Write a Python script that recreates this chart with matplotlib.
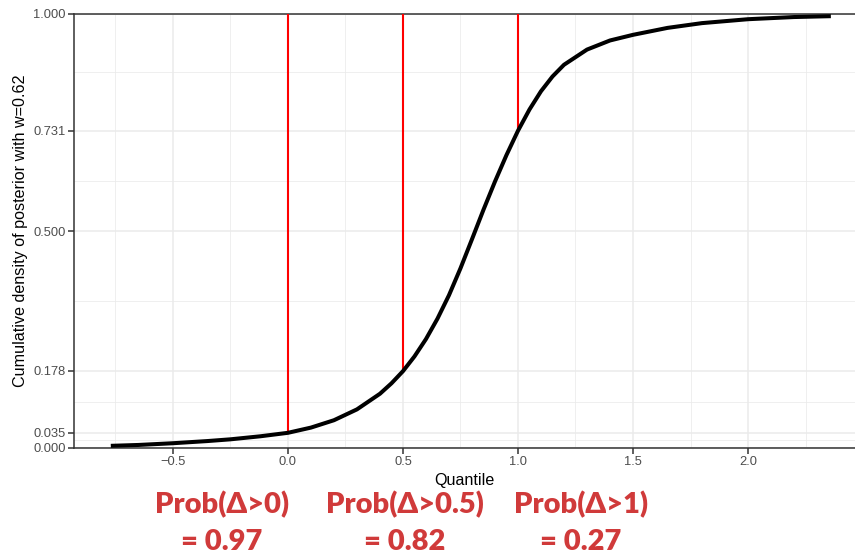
import matplotlib
matplotlib.use('Agg')
import matplotlib.pyplot as plt

# Posterior CDF
quantile = [-0.77, -0.65, -0.50, -0.35, -0.25, -0.12, 0.00, 0.10, 0.20, 0.30,
            0.40, 0.45, 0.50, 0.55, 0.60, 0.65, 0.70, 0.75, 0.80, 0.85,
            0.90, 0.95, 1.00, 1.05, 1.10, 1.15, 1.20, 1.30, 1.40, 1.50,
            1.65, 1.80, 2.00, 2.20, 2.36]
cum_density = [0.005, 0.007, 0.011, 0.016, 0.020, 0.027, 0.035, 0.047, 0.064, 0.089,
               0.125, 0.149, 0.177, 0.211, 0.251, 0.298, 0.352, 0.414, 0.481, 0.549,
               0.614, 0.675, 0.731, 0.780, 0.822, 0.856, 0.883, 0.918, 0.939, 0.952,
               0.968, 0.979, 0.988, 0.993, 0.995]

# Thresholds and their CDF values
thresholds = [0.0, 0.5, 1.0]
threshold_cdf = [0.035, 0.178, 0.731]
prob_labels = ["Prob(\u0394>0)", "Prob(\u0394>0.5)", "Prob(\u0394>1)"]
prob_values = ["= 0.97", "= 0.82", "= 0.27"]

x_major = [-0.5, 0.0, 0.5, 1.0, 1.5, 2.0]
x_minor = [-0.75, -0.25, 0.25, 0.75, 1.25, 1.75, 2.25]
y_major = [0.0, 0.035, 0.178, 0.5, 0.731, 1.0]

GRID = "#EBEBEB"
DARK = "#333333"
TICKTEXT = "#4D4D4D"
ANNOT_RED = "#D03A3A"

plt.rcParams['font.family'] = ['Liberation Sans', 'DejaVu Sans']

fig = plt.figure(figsize=(8.55, 5.54), dpi=100)
ax = fig.add_axes([74 / 855, 1 - 448 / 554, 1 - 74 / 855, (448 - 14) / 554])

ax.set_xlim(-0.930, 2.465)
ax.set_ylim(0, 1)

# Grid (ggplot theme_bw look)
ax.set_xticks(x_major)
ax.set_xticks(x_minor, minor=True)
ax.set_yticks(y_major)
y_minor = [(a + b) / 2 for a, b in zip(y_major[:-1], y_major[1:])]
ax.set_yticks(y_minor, minor=True)
ax.grid(which='major', color=GRID, linewidth=1.1)
ax.grid(which='minor', color=GRID, linewidth=0.55)
ax.set_axisbelow(True)

ax.set_xticklabels(["\u22120.5", "0.0", "0.5", "1.0", "1.5", "2.0"])
ax.set_yticklabels(["%.3f" % v for v in y_major])
ax.tick_params(which='major', direction='out', length=4, width=1.1,
               color=DARK, labelcolor=TICKTEXT, labelsize=9.3, pad=2)
ax.tick_params(which='minor', length=0)

for side in ["left", "bottom", "top"]:
    ax.spines[side].set_color(DARK)
    ax.spines[side].set_linewidth(1.1)
ax.spines["right"].set_visible(False)

# Red threshold lines from the curve up to the top
for x, y in zip(thresholds, threshold_cdf):
    ax.plot([x, x], [y, 1.0], color="red", linewidth=1.5, zorder=3)

ax.plot(quantile, cum_density, color="black", linewidth=2.9,
        solid_capstyle='butt', solid_joinstyle='round', zorder=4)

ax.set_xlabel("Quantile", fontsize=11.6, labelpad=3)
ax.set_ylabel("Cumulative density of posterior with w=0.62", fontsize=11.6, labelpad=4)

# Probability annotations below the axis
for xc, lab, val in zip([222, 405, 581], prob_labels, prob_values):
    fig.text(xc / 855, 1 - 505 / 554, lab, ha='center', va='center',
             fontsize=21, fontweight='heavy', color=ANNOT_RED,
             family=['Lato', 'DejaVu Sans'])
    fig.text(xc / 855, 1 - 542 / 554, val, ha='center', va='center',
             fontsize=21, fontweight='heavy', color=ANNOT_RED,
             family=['Lato', 'DejaVu Sans'])

fig.savefig("out.png", dpi=100)
